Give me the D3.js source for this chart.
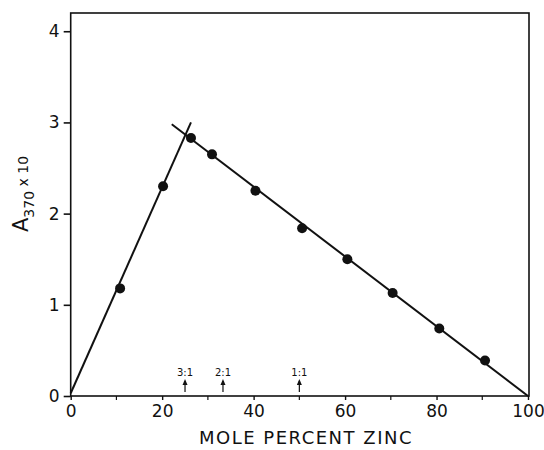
<!DOCTYPE html>
<html>
<head>
<meta charset="utf-8">
<script src="https://cdn.jsdelivr.net/npm/d3@7"></script>
<style>
  body { margin: 0; background: #fff; }
  svg text { font-family: "DejaVu Sans", "Liberation Sans", sans-serif; fill: #111; }
</style>
</head>
<body>
<div id="vis"></div>
<script>
// values
const zincPct = [10.8, 20.2, 26.3, 30.9, 40.4, 50.6, 60.5, 70.4, 80.6, 90.6];
const absorb = [1.18, 2.30, 2.83, 2.65, 2.25, 1.84, 1.50, 1.13, 0.74, 0.39];
// the two fitted straight lines
const riseLine = [[0, 0.03], [26.3, 3.0]];
const fallLine = [[22.1, 2.98], [100, 0]];
// stoichiometry markers
const ratioLabels = ["3:1", "2:1", "1:1"];
const ratioPct = [25, 33.3, 50];
const xTicks = [0, 20, 40, 60, 80, 100];
const xMinor = [10, 30, 50, 70, 90];
const yTicks = [0, 1, 2, 3, 4];

const svgWidth = 544,
  svgHeight = 450,
  plotLeft = 70.7,
  plotRight = 528,
  plotTop = 13,
  plotBottom = 396;

const svg = d3
  .select("#vis")
  .append("svg")
  .attr("width", svgWidth)
  .attr("height", svgHeight);

const x = d3.scaleLinear().domain([0, 100]).range([plotLeft, plotRight]);
const y = d3.scaleLinear().domain([0, 4.2]).range([plotBottom, plotTop]);

// frame
svg
  .append("rect")
  .attr("x", plotLeft)
  .attr("y", plotTop)
  .attr("width", plotRight + 1 - plotLeft)
  .attr("height", plotBottom - plotTop)
  .attr("fill", "none")
  .attr("stroke", "#111")
  .attr("stroke-width", 1.6);

// y axis
const yAxis = svg
  .append("g")
  .attr("transform", `translate(${plotLeft},0)`)
  .call(
    d3.axisLeft(y).tickValues(yTicks).tickFormat(d3.format("d")).tickSize(7).tickPadding(4)
  );
yAxis.select(".domain").remove();
yAxis.selectAll("line").attr("stroke", "#111").attr("stroke-width", 1.6);
yAxis.selectAll("text").style("font-size", "17px").attr("fill", "#111");

// x axis
const xAxis = svg
  .append("g")
  .attr("transform", `translate(0,${plotBottom})`)
  .call(
    d3.axisBottom(x).tickValues(xTicks).tickFormat(d3.format("d")).tickSize(4).tickPadding(5)
  );
xAxis.select(".domain").remove();
xAxis.selectAll("line").attr("stroke", "#111").attr("stroke-width", 1.4);
xAxis.selectAll("text").style("font-size", "17px").attr("fill", "#111");

svg
  .append("g")
  .selectAll("line")
  .data(xMinor)
  .join("line")
  .attr("x1", (d) => x(d))
  .attr("x2", (d) => x(d))
  .attr("y1", plotBottom)
  .attr("y2", plotBottom + 4)
  .attr("stroke", "#111")
  .attr("stroke-width", 1.2);

// axis titles
svg
  .append("text")
  .attr("x", 306)
  .attr("y", 444)
  .attr("text-anchor", "middle")
  .style("font-size", "18px")
  .style("letter-spacing", "1.5px")
  .text("MOLE PERCENT ZINC");

const yTitle = svg
  .append("text")
  .attr("transform", "translate(28,194) rotate(-90)")
  .attr("text-anchor", "middle")
  .style("font-size", "21px");
yTitle.append("tspan").text("A");
yTitle.append("tspan").attr("dy", 6).style("font-size", "14px").text("370");
yTitle.append("tspan").attr("dy", -6).style("font-size", "14px").text(" x 10");

// fitted lines
const line = d3
  .line()
  .x((d) => x(d[0]))
  .y((d) => y(d[1]));

svg
  .selectAll("path.fit")
  .data([riseLine, fallLine])
  .join("path")
  .attr("class", "fit")
  .attr("d", line)
  .attr("fill", "none")
  .attr("stroke", "#111")
  .attr("stroke-width", 2);

// data points
svg
  .append("g")
  .selectAll("circle")
  .data(zincPct)
  .join("circle")
  .attr("cx", (d) => x(d))
  .attr("cy", (d, i) => y(absorb[i]))
  .attr("r", 5)
  .attr("fill", "#111");

// ratio arrows
const ratio = svg
  .append("g")
  .selectAll("g")
  .data(ratioPct)
  .join("g")
  .attr("transform", (d) => `translate(${x(d)},0)`);

ratio
  .append("line")
  .attr("y1", 392)
  .attr("y2", 381)
  .attr("stroke", "#111")
  .attr("stroke-width", 1.2);
ratio
  .append("path")
  .attr("d", "M-2.5,385 L0,379 L2.5,385 Z")
  .attr("fill", "#111");
ratio
  .append("text")
  .attr("y", 376)
  .attr("text-anchor", "middle")
  .style("font-size", "10px")
  .text((d, i) => ratioLabels[i]);
</script>
</body>
</html>
